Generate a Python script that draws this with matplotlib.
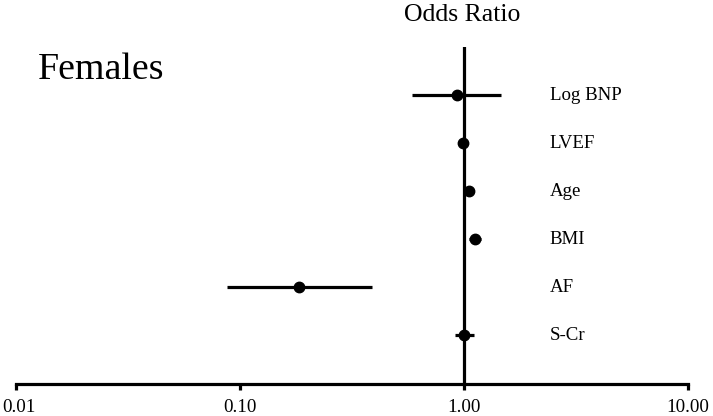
import matplotlib.pyplot as plt
from matplotlib import transforms

plt.rcParams["font.family"] = ["Liberation Serif", "DejaVu Serif"]

variables = ["Log BNP", "LVEF", "Age", "BMI", "AF", "S-Cr"]
odds_ratio = [0.93, 0.99, 1.05, 1.12, 0.183, 1.00]
ci_low = [0.586, 0.975, 1.03, 1.05, 0.0875, 0.91]
ci_high = [1.46, 1.005, 1.07, 1.19, 0.39, 1.11]
xticks = [0.01, 0.1, 1.0, 10.0]
xtick_labels = ["0.01", "0.10", "1.00", "10.00"]

fig = plt.figure(figsize=(7.13, 4.16), dpi=100)
ax = fig.add_axes([16 / 713, 32 / 416, 672 / 713, 337 / 416])

rows = list(range(len(variables)))
ax.axvline(1.0, color="black", lw=2.3, zorder=1)
ax.hlines(rows, ci_low, ci_high, color="black", lw=2.3, zorder=2)
ax.plot(odds_ratio, rows, "o", color="black", ms=7.5, zorder=3)

ax.set_xscale("log")
ax.set_xlim(0.01, 10.0)
ax.set_ylim(6.02, -1.0)
ax.set_xticks(xticks)
ax.set_xticklabels(xtick_labels, fontsize=13.7)
ax.minorticks_off()
ax.set_yticks([])
for side in ["top", "left", "right"]:
    ax.spines[side].set_visible(False)
ax.spines["bottom"].set_linewidth(2.3)
ax.tick_params(axis="x", direction="out", length=4, width=2.3, pad=7)

# keep the first tick label inside the figure edge
first = ax.get_xticklabels()[0]
first.set_transform(first.get_transform() + transforms.ScaledTranslation(3 / 100, 0, fig.dpi_scale_trans))

trans = transforms.blended_transform_factory(ax.transAxes, ax.transData)
for r, name in zip(rows, variables):
    ax.text(0.794, r, name, transform=trans, fontsize=13.6, va="center", ha="left")

fig.text(462 / 713, 1 - 15 / 416, "Odds Ratio", fontsize=18.5, ha="center", va="center")
fig.text(38 / 713, 1 - 70 / 416, "Females", fontsize=27.3, ha="left", va="center")

fig.savefig("out.png", dpi=100)
